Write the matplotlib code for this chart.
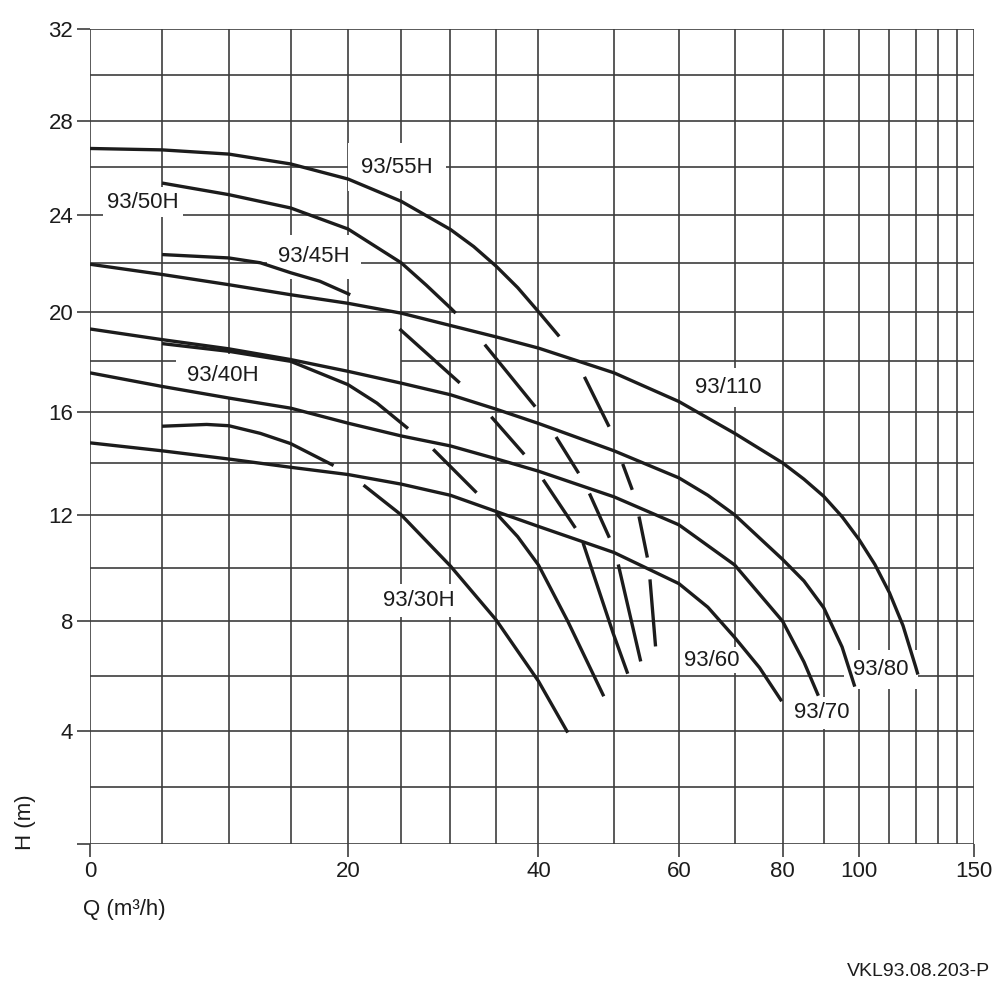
import numpy as np
import matplotlib
matplotlib.use('Agg')
import matplotlib.pyplot as plt

plt.rcParams['font.family'] = ['Liberation Sans', 'DejaVu Sans']

# ---- axis grid (Q in m3/h, H in m) ----
q_grid = [0, 5, 10, 15, 20, 25, 30, 35, 40, 50, 60, 70, 80, 90, 100, 110, 120, 130, 140, 150]
h_grid = list(range(0, 33, 2))
q_ticks = [0, 20, 40, 60, 80, 100, 150]
h_ticks = list(range(0, 33, 4))
h_ticklabels = [''] + [str(v) for v in h_ticks[1:]]

# ---- full pump curves ----
q_55h = [0, 5, 10, 15, 20, 25, 30, 32.5, 35, 37.5, 40, 42.6]
h_55h = [26.8, 26.74, 26.56, 26.14, 25.5, 24.56, 23.38, 22.67, 21.86, 20.98, 20.0, 19.0]

q_50h = [5, 10, 15, 20, 25, 27.5, 30, 30.55]
h_50h = [25.33, 24.84, 24.28, 23.4, 22.0, 21.08, 20.15, 19.94]

q_45h = [5, 10, 12.5, 15, 17.5, 20.2]
h_45h = [22.34, 22.2, 22.0, 21.59, 21.24, 20.69]

q_110 = [0, 5, 10, 15, 20, 25, 30, 35, 40, 50, 60, 70, 80, 85, 90, 95, 100, 105, 110, 115, 120, 121]
h_110 = [21.94, 21.52, 21.1, 20.69, 20.34, 19.94, 19.44, 18.98, 18.53, 17.54, 16.4, 15.15,
         14.0, 13.37, 12.71, 11.93, 11.06, 10.12, 9.06, 7.84, 6.34, 6.04]

q_80 = [0, 5, 10, 15, 20, 25, 30, 35, 40, 50, 60, 65, 70, 80, 85, 90, 95, 98.7]
h_80 = [19.3, 18.87, 18.5, 18.07, 17.6, 17.13, 16.67, 16.1, 15.54, 14.47, 13.42, 12.75, 12.0,
        10.31, 9.5, 8.5, 7.05, 5.6]

q_70 = [0, 5, 10, 15, 20, 25, 30, 35, 40, 50, 60, 70, 80, 85, 88.6]
h_70 = [17.54, 17.0, 16.54, 16.14, 15.55, 15.05, 14.66, 14.16, 13.68, 12.69, 11.62, 10.1,
        8.0, 6.5, 5.27]

q_60 = [0, 5, 10, 15, 20, 25, 30, 35, 40, 50, 60, 65, 70, 75, 79.8]
h_60 = [14.78, 14.47, 14.15, 13.83, 13.55, 13.18, 12.75, 12.13, 11.56, 10.57, 9.4, 8.52, 7.4,
        6.29, 5.07]

q_40h = [5, 10, 15, 20, 22.67, 25.67]
h_40h = [18.71, 18.4, 18.0, 17.07, 16.34, 15.34]

q_low = [5, 8.3, 10, 12.5, 15, 18.7]
h_low = [15.43, 15.5, 15.45, 15.15, 14.75, 13.9]

q_30h = [21.42, 25, 30, 35, 40, 43.7]
h_30h = [13.14, 12.0, 10.06, 8.05, 5.8, 3.94]

q_c11 = [35, 37.5, 40, 43.7, 48.55]
h_c11 = [12.06, 11.17, 10.1, 8.0, 5.25]

# ---- short curve pieces ----
seg_q = [[24.84, 30.98], [33.72, 39.6], [45.9, 49.3], [34.45, 38.28], [42.2, 45.13],
         [51.25, 52.66], [28.2, 32.81], [40.58, 44.7], [46.58, 49.34], [53.67, 54.95],
         [45.71, 49.87, 51.99], [50.61, 53.93], [55.35, 56.22]]
seg_h = [[19.3, 17.14], [18.67, 16.2], [17.38, 15.41], [15.8, 14.33], [15.01, 13.6],
         [13.96, 12.96], [14.53, 12.85], [13.35, 11.5], [12.82, 11.13], [11.94, 10.38],
         [10.94, 7.56, 6.07], [10.12, 6.52], [9.56, 7.07]]

labels = ['93/55H', '93/50H', '93/45H', '93/40H', '93/30H', '93/110', '93/60', '93/70', '93/80']
label_q = [24.6, 3.63, 17.0, 9.55, 26.75, 68.7, 65.7, 89.4, 107.1]
label_h = [26.0, 24.52, 22.24, 17.43, 8.77, 16.95, 6.57, 4.65, 6.22]
label_pad = [0.6, 0.2, 0.5, 0.5, 0.25, 0.4, 0.12, 0.25, 0.4]


def fwd_q(q):
    return 1 - np.exp(-0.0152 * np.asarray(q, dtype=float))


def inv_q(u):
    u = np.clip(np.asarray(u, dtype=float), None, 0.999999)
    return -np.log(1 - u) / 0.0152


def fwd_h(h):
    return 1 - np.exp(-0.00766 * np.asarray(h, dtype=float))


def inv_h(u):
    u = np.clip(np.asarray(u, dtype=float), None, 0.999999)
    return -np.log(1 - u) / 0.00766


grid_col = '#3d3d3d'
ink = '#1c1c1c'

fig = plt.figure(figsize=(10, 10), dpi=100)
ax = fig.add_axes([0.09, 0.156, 0.8837, 0.8147])
ax.set_xscale('function', functions=(fwd_q, inv_q))
ax.set_yscale('function', functions=(fwd_h, inv_h))
ax.set_xlim(0, 150)
ax.set_ylim(0, 32)

ax.vlines(q_grid, 0, 32, colors=grid_col, lw=1.2, zorder=1)
for h in h_grid:
    if h == 18:
        ax.hlines(h, 0, 6.1, colors=grid_col, lw=1.2, zorder=1)
        ax.hlines(h, 25, 150, colors=grid_col, lw=1.2, zorder=1)
    else:
        ax.hlines(h, 0, 150, colors=grid_col, lw=1.2, zorder=1)

curves = [(q_55h, h_55h), (q_50h, h_50h), (q_45h, h_45h), (q_110, h_110), (q_80, h_80),
          (q_70, h_70), (q_60, h_60), (q_40h, h_40h), (q_low, h_low), (q_30h, h_30h),
          (q_c11, h_c11)]
for q, h in curves:
    ax.plot(q, h, color=ink, lw=2.4, zorder=3, solid_capstyle='butt', solid_joinstyle='round')
for q, h in zip(seg_q, seg_h):
    ax.plot(q, h, color=ink, lw=2.4, zorder=3, solid_capstyle='butt')

for txt, q, h, p in zip(labels, label_q, label_h, label_pad):
    ax.text(q, h, txt, fontsize=16, color=ink, ha='center', va='center', zorder=2,
            bbox=dict(boxstyle='square,pad=%s' % p, fc='white', ec='none'))

for s in ax.spines.values():
    s.set_visible(False)
ax.set_xticks(q_ticks)
ax.set_xticklabels([str(v) for v in q_ticks])
ax.set_yticks(h_ticks)
ax.set_yticklabels(h_ticklabels)
ax.minorticks_off()
ax.tick_params(axis='both', length=9.5, width=1.2, color=grid_col, pad=2.5,
               labelsize=16, labelcolor=ink)

fig.text(0.026, 0.178, 'H (m)', rotation=90, fontsize=16, color=ink, ha='center', va='center')
fig.text(0.083, 0.09, 'Q (m³/h)', fontsize=16, color=ink, ha='left', va='center')
fig.text(0.99, 0.029, 'VKL93.08.203-P', fontsize=14, color=ink, ha='right', va='center')

fig.savefig('out.png', dpi=100, facecolor='white')
